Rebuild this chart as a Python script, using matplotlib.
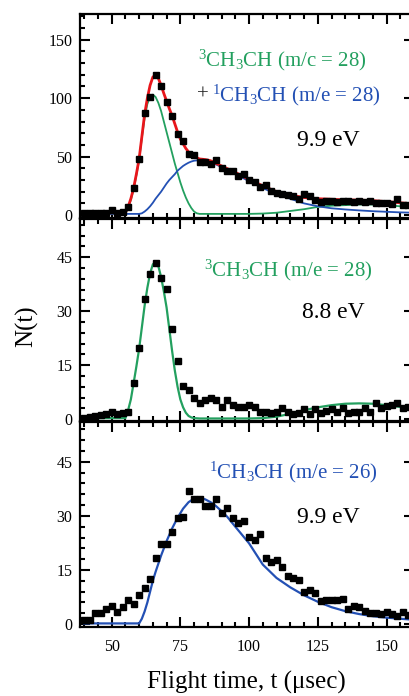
import matplotlib
matplotlib.use('Agg')
import matplotlib.pyplot as plt
from matplotlib.ticker import MultipleLocator

plt.rcParams['font.family'] = ['Liberation Serif', 'DejaVu Serif']
plt.rcParams['mathtext.fontset'] = 'custom'
plt.rcParams['mathtext.rm'] = 'Liberation Serif'
plt.rcParams['mathtext.it'] = 'Liberation Serif:italic'
plt.rcParams['mathtext.bf'] = 'Liberation Serif:bold'

GREEN = '#23a05f'
BLUE = '#2350b4'
RED = '#e8161b'

# ---------------------------------------------------------------- data
# flight times of the measured points (usec)
t_pts = list(range(40, 160, 2))

# top panel, m/e = 28 at 9.9 eV
n_top = [2, 2, 2, 2, 2, 4, 2, 3, 7, 23,
         48, 87, 101, 120, 110, 97, 85, 69, 63, 52,
         51, 45, 45, 44, 47, 40, 38, 38, 33, 35,
         30, 28, 24, 26, 21, 19, 18, 17, 16, 14,
         18, 16, 13, 11, 12, 12, 11, 12, 12, 11,
         12, 11, 12, 10.5, 10, 10.5, 9.5, 13.5, 8.5, 9]

# middle panel, m/e = 28 at 8.8 eV
n_mid = [0.3, 0.7, 0.9, 1.2, 1.5, 1.9, 1.5, 1.7, 2.1, 10,
         19.7, 33.3, 40.3, 43.5, 39.1, 36.1, 25, 16.3, 9.1, 8,
         5.8, 4.4, 5.4, 5.8, 5.2, 3.3, 5.4, 4, 3.5, 3.3,
         4, 3.3, 2.1, 2.1, 1.8, 2.1, 3, 2.1, 1.5, 1.7,
         2.8, 1.5, 2.8, 1.8, 2.4, 2.8, 2.1, 3, 1.8, 2.1,
         2.1, 3, 2.1, 4.4, 3, 3.7, 4, 4.4, 3, 3.5]

# bottom panel, m/e = 26 at 9.9 eV
n_bot = [1.2, 1.2, 3, 3.2, 4.2, 5, 3.5, 4.8, 6.6, 5.6,
         8, 10, 12.5, 18.4, 22.2, 22.2, 25.5, 29.4, 29.6, 37,
         34.6, 34.6, 32.6, 32.6, 34.8, 30.8, 32.3, 29.4, 28, 28.5,
         24.2, 23.2, 24.9, 18.3, 17.1, 17.7, 15.9, 13.4, 12.8, 12.2,
         9, 9.4, 8.5, 6.4, 6.7, 6.8, 6.8, 7.1, 4.2, 5.1,
         4.8, 3.7, 3, 3.2, 2.8, 3.4, 2.7, 2.2, 3.4, 2.5]

# fitted curves
t_fit_g1 = [40, 55, 56, 57, 58, 59, 60, 61, 62, 63, 64, 65, 66, 67, 68, 69, 70,
            71, 72, 73, 74, 75, 76, 77, 78, 79, 80, 81, 82, 90, 100, 105, 110,
            115, 120, 125, 130, 135, 140, 145, 150, 155, 160]
fit_g1 = [1, 1, 6, 13, 22, 34, 47, 66, 83, 95, 101, 103, 101, 96, 89, 80, 71,
          62, 53, 44, 36, 28, 21, 15, 10, 6, 3, 1.5, 1, 1, 1, 1.3, 2,
          3.5, 5, 7, 8, 8.5, 9, 9, 8.5, 7.5, 7]

t_fit_b1 = [40, 60, 61, 62, 63, 64, 65, 66, 67, 68, 69, 70, 71, 72, 73, 74, 75,
            76, 77, 78, 79, 80, 82, 84, 86, 90, 95, 100, 105, 110, 115, 120,
            125, 130, 135, 140, 145, 150, 155, 160]
fit_b1 = [1, 1, 1.5, 3, 5, 7.5, 10.5, 14, 17, 20, 23.5, 27, 30, 32.5, 35, 38, 40,
          42, 43.5, 44.8, 45.8, 46.5, 47, 46.5, 45.5, 41, 35, 29, 23, 18, 14, 10,
          7.5, 5.8, 4.8, 4, 3.3, 2.8, 2.3, 2]

t_fit_r1 = [40, 55, 56, 57, 58, 59, 60, 61, 62, 63, 64, 65, 66, 67, 68, 69, 70,
            71, 72, 73, 74, 75, 76, 77, 78, 79, 80, 82, 84, 86, 90, 95, 100,
            105, 110, 115, 120, 125, 130, 135, 140, 145, 150, 155, 160]
fit_r1 = [2, 2, 7, 14, 23, 35, 48, 67, 86, 100, 111, 118, 120, 117, 111, 104, 97.5,
          91, 85, 78, 71, 65, 61, 57, 54, 51.5, 50, 48, 47.5, 46.5, 42, 36.5, 30.5,
          25, 20, 17, 15, 14, 13.5, 13, 12.8, 12.3, 11.5, 10.5, 9.5]

t_fit_g2 = [40, 55, 56, 57, 58, 59, 60, 61, 62, 63, 64, 65, 66, 67, 68, 69, 70,
            71, 72, 73, 74, 75, 76, 77, 78, 79, 80, 82, 100, 105, 110, 115, 120,
            125, 130, 135, 140, 145, 150, 155, 160]
fit_g2 = [0.3, 0.3, 2.5, 5.5, 10, 14.6, 19.5, 25.5, 31.5, 36.5, 40.5, 43, 43.8,
          42.5, 39.5, 35.5, 31, 25, 19, 13.5, 9, 5.5, 3.3, 1.8, 0.9, 0.5, 0.3,
          0.2, 0.2, 0.3, 0.7, 1.5, 2.5, 3.3, 3.9, 4.3, 4.4, 4.3, 3.9, 3.4, 3]

t_fit_b3 = [40, 60, 61, 62, 63, 64, 65, 66, 68, 70, 72, 74, 76, 78, 80, 82, 84,
            86, 88, 90, 92, 95, 100, 105, 110, 115, 120, 125, 130, 135, 140,
            145, 150, 155, 160]
fit_b3 = [0.2, 0.2, 1.5, 3.5, 6, 9, 12, 14.5, 19, 23, 26.5, 29.5, 32, 33.8, 34.8,
          35, 34.6, 33.8, 32.7, 31.3, 29.8, 27, 22.4, 16.5, 12.8, 10.2, 8, 6.2,
          4.7, 3.6, 2.8, 2.2, 1.8, 1.5, 1.2]


# ---------------------------------------------------------------- axes style
def style_axes(ax, ylim, ymajor, yminor, xlabels=False):
    ax.set_xlim(38.5, 160)
    ax.set_ylim(*ylim)
    ax.xaxis.set_major_locator(MultipleLocator(25))
    ax.xaxis.set_minor_locator(MultipleLocator(5))
    ax.yaxis.set_major_locator(MultipleLocator(ymajor))
    ax.yaxis.set_minor_locator(MultipleLocator(yminor))
    ax.tick_params(which='both', direction='in', top=True, right=True,
                   width=1.5, labelsize=11.5, labelbottom=xlabels)
    ax.tick_params(which='major', length=7.5, pad=5.5)
    ax.tick_params(axis='x', which='major', pad=8.5)
    ax.tick_params(which='minor', length=3.8)
    for sp in ax.spines.values():
        sp.set_linewidth(1.6)


fig = plt.figure(figsize=(4.09, 6.96), dpi=100)
ax1 = fig.add_axes([0.1956, 0.6868, 0.8166, 0.2931])
ax2 = fig.add_axes([0.1956, 0.3951, 0.8166, 0.2902])
ax3 = fig.add_axes([0.1956, 0.0991, 0.8166, 0.2945])

mk = dict(ls='none', marker='s', ms=4, color='black', zorder=3)

# top
ax1.plot(t_fit_g1, fit_g1, color=GREEN, lw=1.3, zorder=2)
ax1.plot(t_fit_b1, fit_b1, color=BLUE, lw=1.3, zorder=2)
ax1.plot(t_fit_r1, fit_r1, color=RED, lw=2.0, zorder=2)
ax1.plot(t_pts, n_top, **mk)
style_axes(ax1, (-2.5, 172), 50, 10)
ax1.text(0.353, 0.775, r'$\mathregular{^3}$CH$\mathregular{_3}$CH (m/c = 28)',
         transform=ax1.transAxes, color=GREEN, fontsize=15, va='center')
ax1.text(0.350, 0.603, '+', transform=ax1.transAxes, color='#222222',
         fontsize=15, va='center')
ax1.text(0.395, 0.603, r'$\mathregular{^1}$CH$\mathregular{_3}$CH (m/e = 28)',
         transform=ax1.transAxes, color=BLUE, fontsize=15, va='center')
ax1.text(0.650, 0.382, '9.9 eV', transform=ax1.transAxes, fontsize=17,
         va='center')

# middle
ax2.plot(t_fit_g2, fit_g2, color=GREEN, lw=1.6, zorder=2)
ax2.plot(t_pts, n_mid, **mk)
style_axes(ax2, (-0.5, 55.6), 15, 3)
ax2.text(0.371, 0.748, r'$\mathregular{^3}$CH$\mathregular{_3}$CH (m/e = 28)',
         transform=ax2.transAxes, color=GREEN, fontsize=15, va='center')
ax2.text(0.665, 0.535, '8.8 eV', transform=ax2.transAxes, fontsize=17,
         va='center')

# bottom
ax3.plot(t_fit_b3, fit_b3, color=BLUE, lw=1.6, zorder=2)
ax3.plot(t_pts, n_bot, **mk)
style_axes(ax3, (-0.8, 56), 15, 3, xlabels=True)
ax3.text(0.386, 0.756, r'$\mathregular{^1}$CH$\mathregular{_3}$CH (m/e = 26)',
         transform=ax3.transAxes, color=BLUE, fontsize=15, va='center')
ax3.text(0.650, 0.532, '9.9 eV', transform=ax3.transAxes, fontsize=17,
         va='center')

fig.text(0.066, 0.532, 'N(t)', rotation=90, fontsize=18, ha='center', va='center')
fig.text(0.603, 0.019, 'Flight time, t (\u03bcsec)', fontsize=18,
         ha='center', va='center')

fig.savefig('out.png', dpi=100)
